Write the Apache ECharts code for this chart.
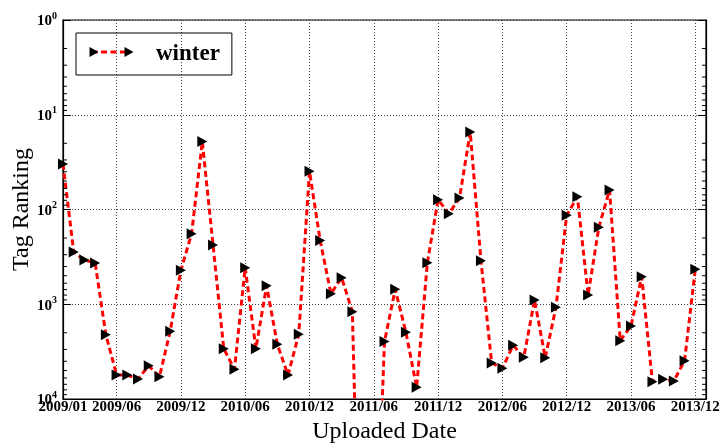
<!DOCTYPE html>
<html>
<head>
<meta charset="utf-8">
<script src="https://cdn.jsdelivr.net/npm/echarts@6/dist/echarts.min.js"></script>
<style>
  html, body { margin: 0; padding: 0; background: #fff; }
  #chart { width: 723px; height: 444px; }
</style>
</head>
<body>
<div id="chart"></div>
<script>
// Monthly upload dates (category axis, one slot per month)
const months = [
  '2009/01','2009/02','2009/03','2009/04','2009/05','2009/06','2009/07','2009/08','2009/09','2009/10','2009/11','2009/12',
  '2010/01','2010/02','2010/03','2010/04','2010/05','2010/06','2010/07','2010/08','2010/09','2010/10','2010/11','2010/12',
  '2011/01','2011/02','2011/03','2011/04','2011/05','2011/06','2011/07','2011/08','2011/09','2011/10','2011/11','2011/12',
  '2012/01','2012/02','2012/03','2012/04','2012/05','2012/06','2012/07','2012/08','2012/09','2012/10','2012/11','2012/12',
  '2013/01','2013/02','2013/03','2013/04','2013/05','2013/06','2013/07','2013/08','2013/09','2013/10','2013/11','2013/12',
  '2014/01'
];

// Dates that carry a tick label and a vertical grid line
const xTickLabels = ['2009/01','2009/06','2009/12','2010/06','2010/12','2011/06',
                     '2011/12','2012/06','2012/12','2013/06','2013/12'];

// Rank of the tag "winter" for each month, 2009/01 .. 2013/12
const winterRank = [
  33, 281, 341, 367, 2095, 5580, 5580, 6150, 4450, 5820, 1930, 438,
  180, 19.2, 237, 2940, 4860, 411, 2940, 637, 2650, 5580, 2075, 39.5,
  213, 773, 524, 1197, 2.5e7, 2.2e6, 2480, 696, 1978, 7530, 364, 78.8,
  111, 75.6, 15.2, 347, 4170, 4740, 2715, 3630, 902, 3660, 1077, 115,
  73.3, 798, 154, 62.3, 2425, 1697, 512, 6560, 6200, 6460, 3940, 428
];

// Minor log ticks (2..9 within each decade)
const minorTickValues = [];
for (let k = 0; k < 4; k++) {
  for (let m = 2; m <= 9; m++) minorTickValues.push(m * Math.pow(10, k));
}

const SERIF = '"Liberation Serif", "DejaVu Serif", serif';
const showTick = (idx, val) => xTickLabels.indexOf(val) !== -1;

const yLabelRich = {
  b: { fontFamily: SERIF, fontWeight: 'bold', fontSize: 15, color: '#000', lineHeight: 18, verticalAlign: 'bottom' },
  s: { fontFamily: SERIF, fontWeight: 'bold', fontSize: 10, color: '#000', verticalAlign: 'top', padding: [0, 0, 8, 0] }
};

const chart = echarts.init(document.getElementById('chart'), null, { renderer: 'canvas' });

chart.setOption({
  animation: false,
  backgroundColor: '#fff',
  grid: {
    left: 63, right: 17, top: 20, bottom: 45,
    containLabel: false,
    outerBoundsMode: 'none',
    show: true, borderColor: '#000', borderWidth: 1.2, backgroundColor: 'transparent'
  },
  legend: {
    left: 76, top: 33,
    data: ['winter'],
    borderColor: '#000', borderWidth: 1,
    padding: [9, 12, 9, 13],
    itemWidth: 45, itemHeight: 12,
    itemStyle: { opacity: 0 },
    lineStyle: { opacity: 0 },
    textStyle: {
      fontFamily: SERIF, fontWeight: 'bold', fontSize: 23, color: '#000',
      lineHeight: 24, padding: [0, 0, 0, 16]
    }
  },
  graphic: [{
    // legend key: dashed red line with a triangle marker at each end
    type: 'group', left: 89, top: 47, silent: true,
    children: [
      { type: 'line', shape: { x1: 2, y1: 5, x2: 40, y2: 5 },
        style: { stroke: '#ff0000', lineWidth: 3, lineDash: [6, 3.5] } },
      { type: 'polygon', shape: { points: [[0, 0], [9, 5], [0, 10]] }, style: { fill: '#000' } },
      { type: 'polygon', shape: { points: [[35, 0], [44, 5], [35, 10]] }, style: { fill: '#000' } }
    ]
  }],
  xAxis: {
    type: 'category',
    data: months,
    boundaryGap: false,
    name: 'Uploaded Date',
    nameLocation: 'middle',
    nameGap: 19,
    nameTextStyle: { fontFamily: SERIF, fontSize: 24, color: '#000' },
    axisLine: { show: true, lineStyle: { color: '#000', width: 1.2 } },
    axisTick: { show: false },
    axisLabel: {
      interval: showTick, margin: 1,
      fontFamily: SERIF, fontWeight: 'bold', fontSize: 15, color: '#000'
    },
    splitLine: {
      show: true, interval: showTick,
      lineStyle: { color: '#444', width: 1, type: [1, 2] }
    }
  },
  yAxis: [{
    type: 'log',
    logBase: 10,
    min: 1, max: 10000,
    inverse: true,
    name: 'Tag Ranking',
    nameLocation: 'middle',
    nameGap: 29,
    nameMoveOverlap: false,
    nameTextStyle: { fontFamily: SERIF, fontSize: 24, color: '#000' },
    axisLine: { show: true, lineStyle: { color: '#000', width: 1.2 } },
    axisTick: { show: true, inside: true, length: 8, lineStyle: { color: '#000' } },
    axisLabel: {
      margin: 6,
      formatter: v => '{b|10}{s|' + Math.round(Math.log10(v)) + '}',
      rich: yLabelRich
    },
    splitLine: { show: true, lineStyle: { color: '#444', width: 1, type: [1, 2] } }
  }, {
    type: 'log',
    logBase: 10,
    min: 1, max: 10000,
    inverse: true,
    position: 'right',
    axisLine: { show: true, lineStyle: { color: '#000', width: 1.2 } },
    axisTick: { show: true, inside: true, length: 8, lineStyle: { color: '#000' } },
    axisLabel: { show: false },
    splitLine: { show: false }
  }],
  series: [{
    name: 'winter',
    type: 'line',
    data: winterRank,
    clip: true,
    symbol: 'triangle',
    symbolSize: [11, 10],
    symbolRotate: -90,
    showAllSymbol: true,
    itemStyle: { color: '#000' },
    lineStyle: { color: '#ff0000', width: 3, type: [6, 3.5] },
    z: 3
  }, {
    // minor ticks along the left and right frame edges
    type: 'custom',
    data: minorTickValues.map(v => [0, v]),
    silent: true,
    z: 4,
    renderItem: function (params, api) {
      const y = api.coord([0, api.value(1)])[1];
      const cs = params.coordSys;
      return {
        type: 'group',
        children: [
          { type: 'line', shape: { x1: cs.x, y1: y, x2: cs.x + 4, y2: y }, style: { stroke: '#000', lineWidth: 1 } },
          { type: 'line', shape: { x1: cs.x + cs.width - 4, y1: y, x2: cs.x + cs.width, y2: y }, style: { stroke: '#000', lineWidth: 1 } }
        ]
      };
    }
  }]
});
</script>
</body>
</html>
